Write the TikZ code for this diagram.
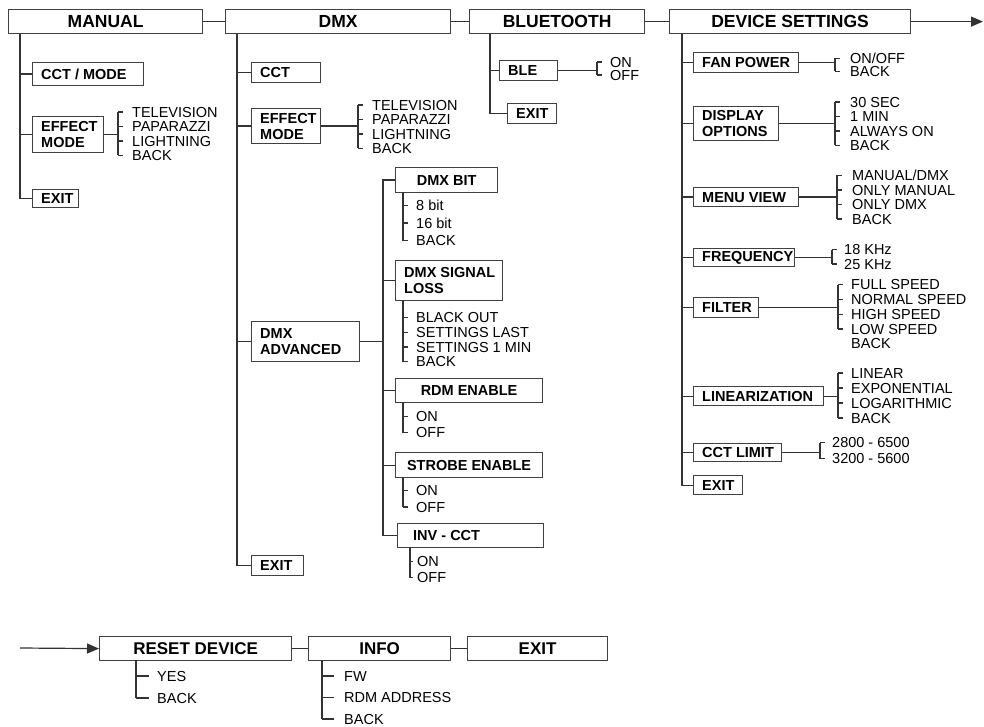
\documentclass[tikz,border=0pt]{standalone}
\usepackage{fontspec}
\setmainfont{Liberation Sans}
\usetikzlibrary{arrows.meta}
\tikzset{
  ln/.style={draw=black!80, line width=1.2pt},
  cb/.style={draw=black!75, line width=1.2pt, inner sep=0pt},
  topbox/.style={draw=black!75, line width=1.2pt, inner sep=0pt, minimum height=24pt,
    anchor=north west, font=\fontsize{17.5}{18}\selectfont\bfseries},
  lab/.style={inner sep=0pt, anchor=west, align=left, font=\fontsize{14.5}{16}\selectfont\bfseries},
  itm/.style={inner sep=0pt, anchor=base west, font=\fontsize{14.5}{15}\selectfont},
  arr/.style={ln, -{Triangle[length=12pt,width=10pt]}}
}
% left-aligned box: name, x1, y1, x2, y2, text
\newcommand\cbx[6]{%
  \pgfmathsetmacro\bw{#4-#2}\pgfmathsetmacro\bh{#5-#3}%
  \node[cb, minimum width=\bw pt, minimum height=\bh pt, anchor=north west] (#1) at (#2,#3) {};%
  \node[lab] (#1t) at ([xshift=9pt]#1.west) {#6};}
% centred box
\newcommand\cbc[6]{%
  \pgfmathsetmacro\bw{#4-#2}\pgfmathsetmacro\bh{#5-#3}%
  \node[cb, minimum width=\bw pt, minimum height=\bh pt, anchor=north west] (#1) at (#2,#3) {};%
  \node[lab, anchor=center] (#1t) at (#1.center) {#6};}
% list: prefix, bracket x, start y, tick length, text x, first y, step, items
\newcommand\blist[8]{%
  \foreach \t [count=\i] in {#8}{%
    \pgfmathsetmacro\yy{#6+(\i-1)*#7}%
    \node[itm] (#1\i) at (#5,\yy+5.2) {\t};%
    \draw[ln] (#2,\yy) -- ++(#4,0);%
    \xdef\lasty{\yy}}%
  \draw[ln] (#2,#3) -- (#2,\lasty);%
  \coordinate (#1m) at (#2,{(#3+\lasty)/2});}
\begin{document}
\begin{tikzpicture}[x=1pt,y=-1pt]
\useasboundingbox (0,0) rectangle (984,727);
% ---------- top level ----------
\node[topbox, minimum width=194pt] (man) at (8,9) {MANUAL};
\node[topbox, minimum width=225pt] (dmx) at (225,9) {DMX};
\node[topbox, minimum width=175pt] (bt) at (469,9) {BLUETOOTH};
\node[topbox, minimum width=241pt] (dev) at (669,9) {DEVICE SETTINGS};
\coordinate (aend) at (983,22);
\draw[ln] (man.east) -- (dmx.west);
\draw[ln] (dmx.east) -- (bt.west);
\draw[ln] (bt.east) -- (dev.west);
\draw[arr] (dev.east) -- (dev.east -| aend);

% ---------- MANUAL ----------
\cbx{cctm}{32}{62}{143}{85}{CCT / MODE}
\cbx{effm}{32}{116}{103}{152}{EFFECT\\MODE}
\cbx{exitm}{32}{189}{78}{207}{EXIT}
\coordinate (mt) at ([xshift=12pt]man.south west);
\draw[ln] (mt) |- (exitm.west);
\draw[ln] (cctm.west) -- (cctm.west -| mt);
\draw[ln] (effm.west) -- (effm.west -| mt);
\blist{lm}{118}{112}{4.5}{132}{112}{14.5}{TELEVISION,PAPARAZZI,LIGHTNING,BACK}
\draw[ln] (effm.east) -- (effm.east -| lmm);

% ---------- DMX ----------
\cbx{cctd}{251}{62}{320}{82}{CCT}
\cbx{effd}{251}{108}{320}{143}{EFFECT\\MODE}
\cbx{advd}{251}{321}{359}{361}{DMX\\ADVANCED}
\cbx{exitd}{251}{555}{303}{575}{EXIT}
\coordinate (dt) at ([xshift=12pt]dmx.south west);
\draw[ln] (dt) |- (exitd.west);
\draw[ln] (cctd.west) -- (cctd.west -| dt);
\draw[ln] (effd.west) -- (effd.west -| dt);
\draw[ln] (advd.west) -- (advd.west -| dt);
\blist{ld}{358}{105}{4.5}{372}{105}{14.5}{TELEVISION,PAPARAZZI,LIGHTNING,BACK}
\draw[ln] (effd.east) -- (effd.east -| ldm);

% DMX ADVANCED sub menu
\cbc{dbit}{395}{167}{497}{192}{DMX BIT}
\cbx{sig}{395}{260}{502}{300}{DMX SIGNAL\\LOSS}
\cbc{rdm}{395}{378}{542}{402}{RDM ENABLE}
\cbc{stb}{395}{452}{542}{477}{STROBE ENABLE}
\node[cb, minimum width=146pt, minimum height=24pt, anchor=north west] (inv) at (397,523) {};
\node[lab] (invt) at ([xshift=16pt]inv.west) {INV - CCT};
\coordinate (st) at (383,179);
\draw[ln] (dbit.west) -- (dbit.west -| st) |- (inv.west);
\draw[ln] (sig.west) -- (sig.west -| st);
\draw[ln] (rdm.west) -- (rdm.west -| st);
\draw[ln] (stb.west) -- (stb.west -| st);
\draw[ln] (advd.east) -- (advd.east -| st);
\blist{lb}{403}{192}{4.5}{416}{205.5}{17.5}{8 bit,16 bit,BACK}
\blist{ls}{403}{300}{4.5}{416}{317.5}{14.7}{BLACK OUT,SETTINGS LAST,SETTINGS 1 MIN,BACK}
\blist{lr}{403}{402}{4.5}{416}{416.5}{16}{ON,OFF}
\blist{lt}{403}{477}{4.5}{416}{490.5}{16.5}{ON,OFF}
\blist{li}{410}{547}{3}{417}{561.5}{16}{ON,OFF}

% ---------- BLUETOOTH ----------
\cbx{ble}{499}{60}{557}{80}{BLE}
\cbx{exitb}{507}{103}{556}{123}{EXIT}
\coordinate (btt) at ([xshift=21pt]bt.south west);
\draw[ln] (btt) |- (exitb.west);
\draw[ln] (ble.west) -- (ble.west -| btt);
\blist{lble}{597}{62}{4.5}{610}{62}{13}{ON,OFF}
\draw[ln] (ble.east) -- (ble.east -| lblem);

% ---------- DEVICE SETTINGS ----------
\cbx{fan}{693}{52}{798}{72}{FAN POWER}
\cbx{disp}{693}{106}{778}{140}{DISPLAY\\OPTIONS}
\cbx{menu}{693}{187}{798}{206}{MENU VIEW}
\cbx{freq}{693}{248}{794}{266}{FREQUENCY}
\cbx{filt}{693}{297}{758}{317}{FILTER}
\cbx{lin}{693}{386}{823}{405}{LINEARIZATION}
\cbx{cctl}{693}{443}{781}{461}{CCT LIMIT}
\cbx{exitv}{693}{475}{742}{494}{EXIT}
\coordinate (vt) at ([xshift=13pt]dev.south west);
\draw[ln] (vt) |- (exitv.west);
\foreach \n in {fan,disp,menu,freq,filt,lin,cctl}{\draw[ln] (\n.west) -- (\n.west -| vt);}
\blist{lf}{835}{58.5}{4.5}{850}{58.5}{13}{{ON/OFF},BACK}
\draw[ln] (fan.east) -- (fan.east -| lfm);
\blist{lo}{835}{102}{4.5}{850}{102}{14.5}{30 SEC,1 MIN,ALWAYS ON,BACK}
\draw[ln] (disp.east) -- (disp.east -| lom);
\blist{lv}{837}{175.5}{4.5}{852}{175.5}{14.5}{{MANUAL/DMX},ONLY MANUAL,ONLY DMX,BACK}
\draw[ln] (menu.east) -- (menu.east -| lvm);
\blist{lq}{832}{249.5}{4.5}{844}{249.5}{14.5}{18 KHz,25 KHz}
\draw[ln] (freq.east) -- (freq.east -| lqm);
\blist{lx}{838}{284.5}{4.5}{851}{284.5}{14.8}{FULL SPEED,NORMAL SPEED,HIGH SPEED,LOW SPEED}
\node[itm] (lx5) at (851,343.5+5.2) {BACK};
\draw[ln] (filt.east) -- (filt.east -| lxm);
\blist{ll}{838}{373}{4.5}{851}{373}{15}{LINEAR,EXPONENTIAL,LOGARITHMIC,BACK}
\draw[ln] (lin.east) -- (lin.east -| llm);
\blist{lc}{820}{442.5}{4.5}{832}{442.5}{16}{2800 - 6500,3200 - 5600}
\draw[ln] (cctl.east) -- (cctl.east -| lcm);

% ---------- bottom row ----------
\node[topbox, minimum width=192pt, font=\fontsize{17}{18}\selectfont\bfseries] (reset) at (99,636) {RESET DEVICE};
\node[topbox, minimum width=142pt, font=\fontsize{17}{18}\selectfont\bfseries] (info) at (308,636) {INFO};
\node[topbox, minimum width=140pt, font=\fontsize{17}{18}\selectfont\bfseries] (exitl) at (467,636) {EXIT};
\coordinate (bst) at (20,648);
\draw[arr] (bst) -- (reset.west);
\draw[ln] (reset.east) -- (info.west);
\draw[ln] (info.east) -- (exitl.west);
\blist{lrs}{136}{660}{13}{157}{676}{22}{YES,BACK}
\blist{lnf}{322}{660}{12}{344}{676}{21.5}{FW,RDM ADDRESS,BACK}
\end{tikzpicture}
\end{document}
